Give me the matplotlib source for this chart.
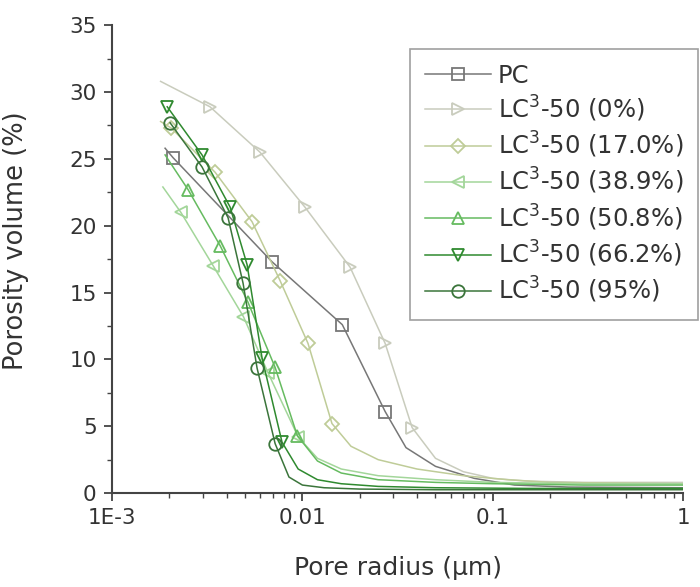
import matplotlib
matplotlib.use("Agg")
import matplotlib.pyplot as plt

# dữ liệu (bán kính lỗ rỗng, µm ; thể tích lỗ rỗng, %)
pc_x = [0.0019, 0.00209, 0.00693, 0.0162, 0.0272, 0.035, 0.05, 0.08, 0.13, 0.25, 1.0]
pc_y = [25.8, 25.1, 17.3, 12.6, 6.1, 3.4, 2.0, 1.1, 0.6, 0.45, 0.4]
pc_mk = [1, 2, 3, 4]

lc0_x = [0.0018, 0.00327, 0.00599, 0.0103, 0.0178, 0.0272, 0.0377, 0.05, 0.07, 0.1, 0.15, 0.3, 1.0]
lc0_y = [30.8, 28.9, 25.5, 21.4, 16.9, 11.2, 4.9, 2.6, 1.6, 1.1, 0.9, 0.8, 0.8]
lc0_mk = [1, 2, 3, 4, 5, 6]

lc17_x = [0.0018, 0.00205, 0.00348, 0.00544, 0.00763, 0.0107, 0.0143, 0.018, 0.025, 0.04, 0.07, 0.12, 0.2, 1.0]
lc17_y = [27.8, 27.3, 24.0, 20.3, 15.9, 11.2, 5.2, 3.5, 2.5, 1.8, 1.3, 1.0, 0.8, 0.7]
lc17_mk = [1, 2, 3, 4, 5, 6]

lc39_x = [0.00185, 0.0023, 0.0034, 0.0049, 0.0066, 0.0095, 0.012, 0.016, 0.025, 0.05, 0.1, 0.3, 1.0]
lc39_y = [22.9, 21.0, 17.0, 13.2, 9.0, 4.2, 2.6, 1.8, 1.3, 1.0, 0.8, 0.7, 0.7]
lc39_mk = [1, 2, 3, 4, 5]

lc51_x = [0.0019, 0.00251, 0.0037, 0.00517, 0.00719, 0.0094, 0.012, 0.016, 0.025, 0.05, 0.1, 0.3, 1.0]
lc51_y = [25.3, 22.7, 18.5, 14.3, 9.4, 4.3, 2.4, 1.5, 1.0, 0.8, 0.7, 0.6, 0.6]
lc51_mk = [1, 2, 3, 4, 5]

lc66_x = [0.00195, 0.00297, 0.00417, 0.00512, 0.00614, 0.00782, 0.0095, 0.012, 0.016, 0.025, 0.05, 0.15, 1.0]
lc66_y = [28.9, 25.3, 21.4, 17.1, 10.1, 3.8, 1.8, 1.0, 0.7, 0.5, 0.4, 0.35, 0.35]
lc66_mk = [0, 1, 2, 3, 4, 5]

lc95_x = [0.00202, 0.00297, 0.00407, 0.00488, 0.00578, 0.00719, 0.0085, 0.01, 0.013, 0.02, 0.05, 0.2, 1.0]
lc95_y = [27.7, 24.4, 20.6, 15.7, 9.35, 3.7, 1.2, 0.6, 0.4, 0.3, 0.25, 0.25, 0.25]
lc95_mk = [0, 1, 2, 3, 4, 5]

labels = ["PC", "LC$^3$-50 (0%)", "LC$^3$-50 (17.0%)", "LC$^3$-50 (38.9%)",
          "LC$^3$-50 (50.8%)", "LC$^3$-50 (66.2%)", "LC$^3$-50 (95%)"]
xtick_vals = [0.001, 0.01, 0.1, 1]
xtick_labels = ["1E-3", "0.01", "0.1", "1"]

series = [
    (pc_x, pc_y, pc_mk, "s", "#777777"),
    (lc0_x, lc0_y, lc0_mk, ">", "#c9ccbd"),
    (lc17_x, lc17_y, lc17_mk, "D", "#bfcc98"),
    (lc39_x, lc39_y, lc39_mk, "<", "#a3d69a"),
    (lc51_x, lc51_y, lc51_mk, "^", "#66bb60"),
    (lc66_x, lc66_y, lc66_mk, "v", "#2f8a2f"),
    (lc95_x, lc95_y, lc95_mk, "o", "#3b753b"),
]

plt.rcParams['font.family'] = ['DejaVu Sans']
fig = plt.figure(figsize=(7, 5.87), dpi=100)
ax = fig.add_axes([0.16, 0.16, 0.816, 0.797])

for (x, y, mk, m, c), lab in zip(series, labels):
    ms = 7 if m == "D" else 9
    ax.plot(x, y, color=c, lw=1.1, marker=m, markevery=mk, ms=ms,
            mfc="none", mec=c, mew=1.3, label=lab)

ax.set_xscale("log")
ax.set_xlim(0.001, 1)
ax.set_ylim(0, 35)
ax.set_xticks(xtick_vals)
ax.set_xticklabels(xtick_labels)
ax.set_yticks(range(0, 36, 5))
ax.set_yticks([i * 2.5 for i in range(15)], minor=True)

for s in ["top", "right"]:
    ax.spines[s].set_visible(False)
for s in ["left", "bottom"]:
    ax.spines[s].set_color("#444444")
    ax.spines[s].set_linewidth(1.5)
ax.tick_params(which="major", direction="out", length=6, width=1.3, pad=5,
               colors="#444444", labelsize=15.5, labelcolor="#333333")
ax.tick_params(which="minor", direction="out", length=3.5, width=1.0, colors="#444444")

ax.set_xlabel("Pore radius (\u03bcm)", fontsize=18, color="#333333", labelpad=20)
ax.set_ylabel("Porosity volume (%)", fontsize=18.5, color="#333333")
ax.yaxis.set_label_coords(-0.145, 0.54)

leg = ax.legend(loc="upper right", bbox_to_anchor=(0.997, 0.9165),
                bbox_transform=fig.transFigure, borderaxespad=0,
                fontsize=17.5, handlelength=2.7, labelspacing=0.25,
                frameon=True, fancybox=False, borderpad=0.6, handletextpad=0.3)
leg.get_frame().set_edgecolor("#888888")
leg.get_frame().set_linewidth(1.2)
for t in leg.get_texts():
    t.set_color("#333333")

fig.savefig("out.png", dpi=100)
